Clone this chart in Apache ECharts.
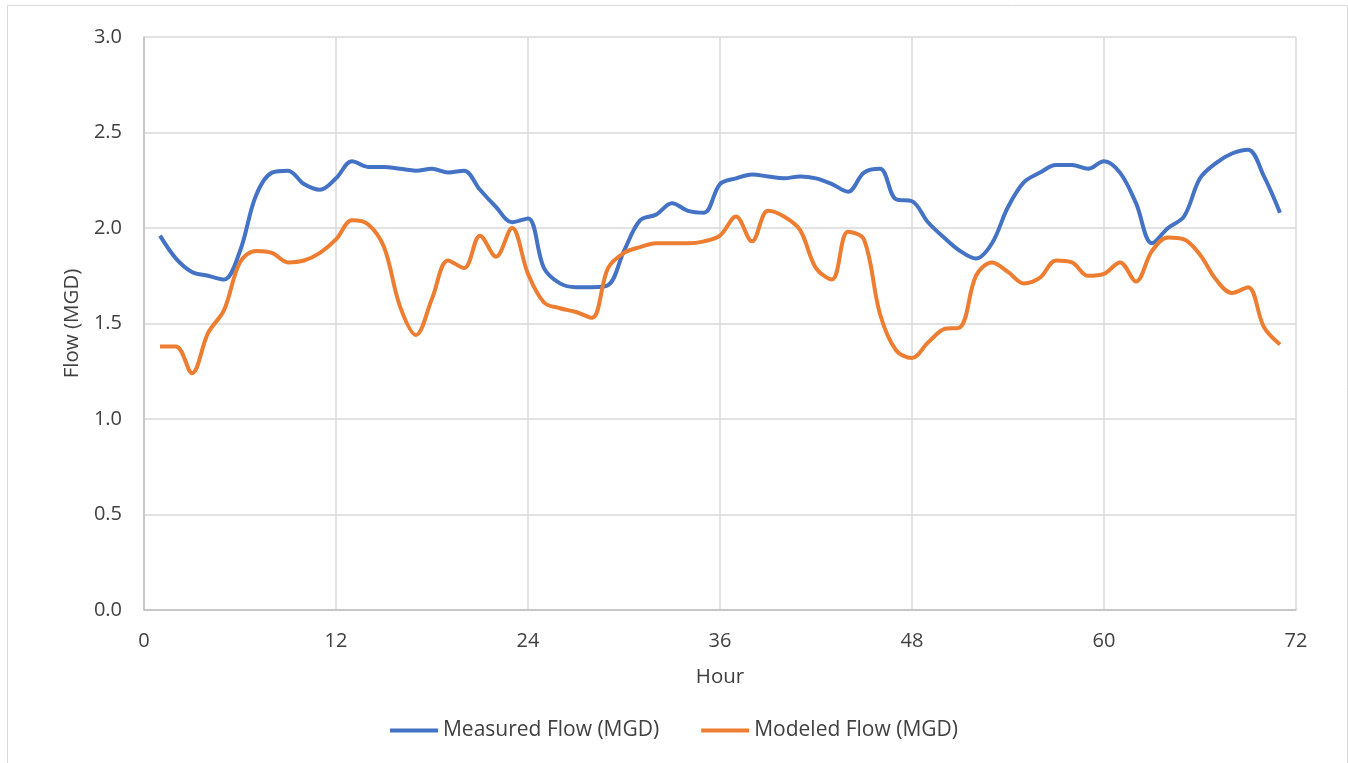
<!DOCTYPE html>
<html>
<head>
<meta charset="utf-8">
<script src="https://cdn.jsdelivr.net/npm/echarts@6/dist/echarts.min.js"></script>
<style>html,body{margin:0;padding:0;background:#fff}#c{width:1348px;height:763px}</style>
</head>
<body>
<div id="c"></div>
<script>
const hours = Array.from({length: 71}, (_, i) => i + 1);
const measured = [1.96,1.84,1.77,1.75,1.73,1.88,2.17,2.29,2.30,2.23,2.20,2.26,2.35,2.32,2.32,2.31,2.30,2.31,2.29,2.30,2.20,2.11,2.03,2.05,1.79,1.71,1.69,1.69,1.70,1.88,2.04,2.07,2.13,2.09,2.08,2.23,2.26,2.28,2.27,2.26,2.27,2.26,2.23,2.19,2.29,2.31,2.15,2.14,2.03,1.95,1.88,1.84,1.92,2.11,2.24,2.29,2.33,2.33,2.31,2.35,2.29,2.13,1.92,2.00,2.06,2.26,2.34,2.39,2.41,2.27,2.08];
const modeled = [1.38,1.38,1.24,1.45,1.57,1.82,1.88,1.87,1.82,1.83,1.87,1.94,2.04,2.02,1.90,1.59,1.44,1.63,1.83,1.79,1.96,1.85,2.00,1.76,1.61,1.58,1.56,1.53,1.79,1.87,1.90,1.92,1.92,1.92,1.93,1.96,2.06,1.93,2.09,2.06,1.99,1.79,1.73,1.98,1.94,1.55,1.36,1.32,1.40,1.47,1.48,1.75,1.82,1.77,1.71,1.74,1.83,1.82,1.75,1.76,1.82,1.72,1.88,1.95,1.94,1.86,1.73,1.66,1.69,1.48,1.39];
const seriesNames = ['Measured Flow (MGD)', 'Modeled Flow (MGD)'];
const FONT = 'Open Sans';
const TXT = '#404040';

const chart = echarts.init(document.getElementById('c'));
chart.setOption({
  animation: false,
  backgroundColor: '#fff',
  textStyle: {fontFamily: FONT},
  graphic: [{
    type: 'rect', left: 5, top: 3, z: -1,
    shape: {width: 1340, height: 762},
    style: {fill: 'none', stroke: '#d9d9d9', lineWidth: 1}
  }],
  grid: {left: 144, right: 52, top: 37, bottom: 153},
  legend: {
    bottom: 17, left: 'center',
    itemWidth: 48, itemHeight: 4, itemGap: 42,
    icon: 'rect',
    textStyle: {fontFamily: FONT, fontSize: 21, color: TXT},
    data: seriesNames
  },
  xAxis: {
    type: 'value', min: 0, max: 72, interval: 12,
    name: 'Hour', nameLocation: 'middle', nameGap: 57,
    nameTextStyle: {fontFamily: FONT, fontSize: 20.5, color: TXT},
    axisLine: {show: true, lineStyle: {color: '#bfbfbf', width: 1.5}},
    axisTick: {show: false},
    axisLabel: {fontFamily: FONT, fontSize: 20, color: TXT, margin: 21},
    splitLine: {show: true, lineStyle: {color: '#d9d9d9', width: 1.5}}
  },
  yAxis: {
    type: 'value', min: 0, max: 3, interval: 0.5,
    name: 'Flow (MGD)', nameLocation: 'middle', nameGap: 61,
    nameTextStyle: {fontFamily: FONT, fontSize: 20.5, color: TXT},
    axisLine: {show: true, lineStyle: {color: '#bfbfbf', width: 1.5}},
    axisTick: {show: false},
    axisLabel: {fontFamily: FONT, fontSize: 20, color: TXT, margin: 22, formatter: v => v.toFixed(1)},
    splitLine: {show: true, lineStyle: {color: '#d9d9d9', width: 1.5}}
  },
  series: [
    {name: seriesNames[0], type: 'line', data: hours.map((h, i) => [h, measured[i]]), smooth: 0.35, symbol: 'none', lineStyle: {color: '#4472C4', width: 4}, itemStyle: {color: '#4472C4'}},
    {name: seriesNames[1], type: 'line', data: hours.map((h, i) => [h, modeled[i]]), smooth: 0.35, symbol: 'none', lineStyle: {color: '#ED7D31', width: 4}, itemStyle: {color: '#ED7D31'}}
  ]
});
</script>
</body>
</html>
